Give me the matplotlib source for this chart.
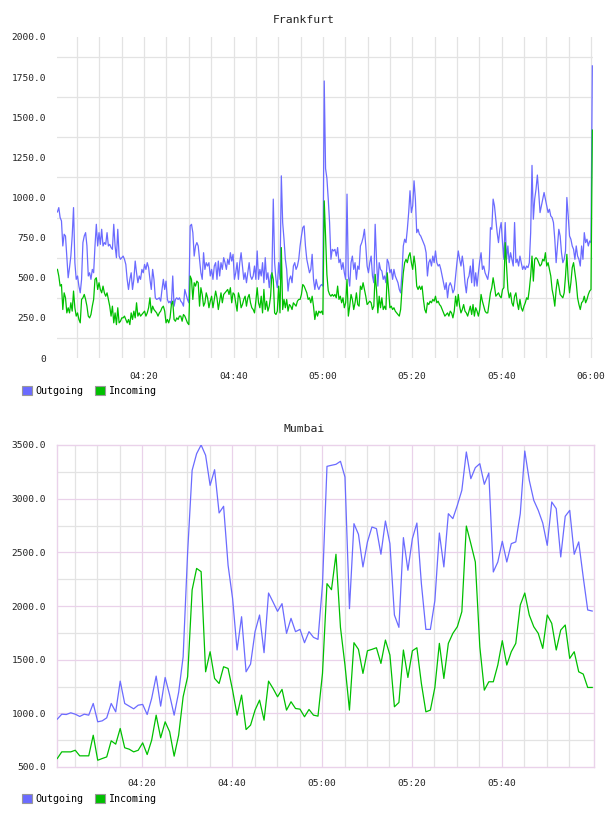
import matplotlib
matplotlib.use("Agg")
import matplotlib.pyplot as plt
from matplotlib.patches import Patch
import numpy as np

# ---------------- data ----------------
# Frankfurt: samples every 0.3 min starting 04:00:36 (minutes after 04:00)
fra_start = 0.6
fra_step = 0.3
fra_outgoing = [
    910, 937, 875, 854, 698, 771, 760, 635, 500, 563,
    635, 760, 937, 594, 490, 511, 448, 406, 490, 719,
    760, 781, 698, 511, 531, 490, 552, 531, 698, 833,
    698, 781, 708, 802, 698, 719, 708, 781, 698, 708,
    688, 677, 833, 698, 625, 802, 635, 615, 625, 635,
    615, 583, 490, 427, 490, 531, 427, 490, 604, 531,
    469, 511, 490, 552, 531, 583, 552, 594, 563, 490,
    427, 552, 490, 375, 365, 369, 375, 354, 427, 490,
    427, 479, 365, 344, 354, 333, 511, 323, 365, 375,
    365, 375, 354, 344, 323, 427, 396, 365, 344, 823,
    833, 781, 635, 698, 719, 698, 615, 531, 490, 656,
    552, 594, 573, 594, 511, 552, 490, 573, 594, 490,
    604, 511, 594, 552, 625, 594, 552, 615, 583, 656,
    604, 646, 490, 531, 594, 490, 594, 656, 573, 490,
    531, 469, 531, 594, 511, 490, 511, 573, 490, 667,
    490, 552, 511, 594, 469, 625, 490, 531, 438, 511,
    531, 990, 594, 490, 438, 594, 490, 1135, 844, 740,
    615, 552, 417, 490, 511, 469, 573, 594, 552, 573,
    615, 698, 760, 812, 823, 698, 615, 573, 531, 552,
    646, 490, 427, 490, 448, 427, 448, 458, 448, 1726,
    1180, 1120, 990, 844, 615, 677, 667, 677, 635, 688,
    594, 615, 552, 594, 531, 490, 1021, 511, 448, 594,
    635, 552, 594, 490, 573, 552, 698, 719, 750, 802,
    698, 573, 531, 594, 635, 511, 469, 833, 615, 448,
    594, 552, 542, 490, 511, 469, 615, 594, 531, 552,
    490, 552, 511, 490, 469, 427, 406, 531, 698, 740,
    719, 802, 906, 1042, 906, 948, 1104, 990, 781, 802,
    771, 760, 740, 719, 698, 656, 511, 594, 615, 573,
    635, 594, 667, 594, 573, 583, 552, 511, 469, 427,
    469, 375, 448, 469, 448, 406, 427, 511, 594, 667,
    615, 573, 635, 573, 469, 406, 490, 511, 573, 469,
    615, 448, 531, 448, 531, 604, 656, 552, 573, 531,
    511, 490, 552, 812, 802, 990, 948, 865, 781, 719,
    802, 844, 719, 615, 844, 615, 698, 594, 656, 615,
    573, 844, 594, 615, 573, 635, 594, 552, 573, 552,
    573, 563, 594, 781, 1200, 865, 990, 1052, 1140, 1031,
    906, 948, 990, 1031, 990, 948, 906, 927, 885, 875,
    844, 740, 594, 698, 802, 760, 656, 594, 615, 667,
    1000, 885, 760, 740, 698, 677, 615, 698, 635, 615,
    573, 698, 615, 781, 719, 740, 698, 729, 719, 1820,
]
fra_incoming = [
    552, 511, 448, 458, 302, 406, 375, 281, 313, 281,
    344, 292, 417, 313, 261, 281, 240, 219, 365, 375,
    396, 365, 323, 261, 250, 271, 323, 365, 490, 500,
    427, 469, 427, 406, 448, 406, 385, 406, 365, 323,
    261, 323, 219, 281, 208, 313, 219, 229, 250, 250,
    261, 240, 219, 240, 208, 281, 240, 292, 250, 344,
    261, 281, 261, 271, 281, 292, 261, 281, 313, 375,
    281, 323, 302, 292, 281, 261, 281, 292, 313, 323,
    292, 219, 240, 219, 250, 333, 354, 240, 229, 250,
    240, 261, 261, 229, 271, 261, 240, 219, 208, 511,
    490, 365, 469, 448, 479, 469, 323, 438, 396, 323,
    344, 406, 375, 313, 354, 385, 313, 365, 417, 375,
    302, 354, 406, 344, 396, 406, 417, 427, 396, 438,
    344, 406, 396, 344, 292, 406, 375, 313, 333, 365,
    385, 323, 375, 396, 344, 313, 302, 281, 354, 438,
    344, 313, 385, 281, 427, 302, 354, 292, 323, 385,
    531, 490, 281, 271, 292, 448, 281, 688, 302, 365,
    313, 365, 292, 333, 323, 302, 344, 333, 323, 354,
    365, 365, 396, 458, 448, 427, 406, 365, 375, 344,
    385, 323, 240, 292, 261, 292, 281, 292, 271, 979,
    760, 520, 420, 396, 385, 396, 385, 396, 375, 448,
    365, 385, 344, 375, 313, 344, 490, 261, 323, 396,
    365, 302, 344, 406, 333, 323, 448, 427, 469, 427,
    385, 333, 344, 354, 344, 302, 323, 521, 427, 281,
    385, 313, 375, 302, 323, 302, 531, 427, 313, 323,
    302, 313, 292, 281, 271, 261, 302, 427, 531, 594,
    615, 594, 635, 656, 594, 552, 635, 573, 448, 427,
    448, 427, 448, 365, 302, 281, 344, 333, 354, 344,
    365, 354, 385, 344, 354, 333, 323, 302, 281, 261,
    271, 281, 261, 292, 281, 250, 292, 385, 323, 396,
    323, 281, 302, 333, 292, 281, 261, 292, 323, 271,
    333, 261, 313, 292, 261, 302, 396, 354, 323, 292,
    281, 281, 344, 406, 438, 500, 448, 385, 396, 406,
    385, 375, 427, 438, 719, 573, 427, 375, 406, 344,
    323, 385, 406, 344, 302, 365, 313, 292, 323, 344,
    375, 365, 427, 511, 635, 479, 615, 625, 615, 594,
    573, 583, 615, 604, 656, 573, 594, 552, 511, 427,
    385, 323, 427, 490, 448, 396, 385, 375, 406, 511,
    646, 490, 406, 469, 563, 594, 531, 469, 375, 333,
    302, 344, 354, 385, 344, 365, 396, 417, 427, 1420,
]

# Mumbai: one sample per minute starting 04:01:06
mum_start = 1.1
mum_step = 1.0
mum_outgoing = [
    946, 992, 989, 1005, 992, 971, 992, 983, 1092, 921,
    930, 958, 1092, 1014, 1300, 1092, 1067, 1042, 1076, 1083,
    989, 1139, 1347, 1067, 1334, 1170, 983, 1195, 1527, 2500,
    3264, 3419, 3500, 3404, 3124, 3270, 2867, 2929, 2379, 2070,
    1590, 1900, 1387, 1459, 1761, 1916, 1565, 2121, 2037, 1950,
    2022, 1745, 1885, 1761, 1782, 1658, 1761, 1708, 1689, 2200,
    3301, 3311, 3320, 3348, 3202, 1975, 2767, 2668, 2364, 2597,
    2736, 2721, 2482, 2792, 2581, 1916, 1801, 2637, 2333, 2628,
    2773, 2208, 1782, 1782, 2050, 2680, 2364, 2860, 2814, 2938,
    3078, 3435, 3186, 3289, 3326, 3134, 3239, 2317, 2410, 2603,
    2410, 2581, 2597, 2860, 3444, 3171, 2985, 2891, 2773, 2565,
    2969, 2907, 2457, 2836, 2891, 2482, 2597, 2270, 1963, 1953,
]
mum_incoming = [
    579, 641, 641, 641, 656, 604, 604, 604, 796, 563,
    579, 594, 744, 713, 859, 679, 666, 641, 656, 725,
    616, 750, 983, 772, 921, 828, 601, 796, 1154, 1341,
    2150, 2350, 2320, 1387, 1574, 1325, 1278, 1434, 1418, 1216,
    983, 1170, 849, 890, 1030, 1123, 936, 1300, 1232, 1154,
    1223, 1030, 1108, 1045, 1039, 968, 1036, 983, 974, 1372,
    2208, 2152, 2482, 1800, 1450, 1030, 1658, 1596, 1372, 1583,
    1596, 1611, 1465, 1683, 1543, 1061, 1101, 1590, 1334, 1583,
    1611, 1278, 1014, 1030, 1241, 1652, 1325, 1652, 1745, 1807,
    1947, 2745, 2581, 2410, 1620, 1216, 1294, 1294, 1450, 1677,
    1450, 1574, 1652, 2009, 2121, 1916, 1807, 1745, 1605, 1916,
    1838, 1590, 1776, 1823, 1512, 1574, 1387, 1366, 1241, 1241,
]

time_ticks = [20, 40, 60, 80, 100, 120]
time_labels = ["04:20", "04:40", "05:00", "05:20", "05:40", "06:00"]
fra_yticks = [0, 250, 500, 750, 1000, 1250, 1500, 1750, 2000]
mum_yticks = [500, 1000, 1500, 2000, 2500, 3000, 3500]
series_names = ["Outgoing", "Incoming"]

# ---------------- style ----------------
BLUE = "#6b6bff"
GREEN = "#00c000"
GRID = "#e3e3e3"
PINK = "#ead2ea"
TXT = "#222222"
MONO = "DejaVu Sans Mono"

fig = plt.figure(figsize=(6.08, 8.16), dpi=100)
fig.patch.set_facecolor("white")

W, H = 608.0, 816.0
def rect(l, t, r, b):
    return [l / W, 1 - b / H, (r - l) / W, (b - t) / H]

ax1 = fig.add_axes(rect(57, 37, 593, 358))
ax2 = fig.add_axes(rect(57, 445, 594, 767))

def ylab(v):
    return "0" if v == 0 else f"{v:.1f}"

# ---- Frankfurt ----
t1 = fra_start + fra_step * np.arange(len(fra_outgoing))
ax1.set_xlim(0.5, 120.45)
ax1.set_ylim(0, 2000)
for x in range(5, 121, 5):
    ax1.axvline(x, color=GRID, lw=0.9, zorder=0)
for y in range(125, 2000, 250):
    ax1.axhline(y, color=GRID, lw=0.9, zorder=0)
ax1.plot(t1, fra_outgoing, color=BLUE, lw=0.9, zorder=3)
ax1.plot(t1, fra_incoming, color=GREEN, lw=0.9, zorder=4)
for s in ax1.spines.values():
    s.set_visible(False)
ax1.set_xticks(time_ticks)
ax1.set_xticklabels(time_labels)
ax1.set_yticks(fra_yticks)
ax1.set_yticklabels([ylab(v) for v in fra_yticks])
ax1.tick_params(axis="both", length=0, labelsize=6.8, colors=TXT)
ax1.tick_params(axis="x", pad=10)
ax1.tick_params(axis="y", pad=8)
for lab in ax1.get_xticklabels() + ax1.get_yticklabels():
    lab.set_family(MONO)

# ---- Mumbai ----
t2 = mum_start + mum_step * np.arange(len(mum_outgoing))
ax2.set_xlim(1.04, 120.5)
ax2.set_ylim(500, 3500)
for x in range(5, 120, 5):
    ax2.axvline(x, color=PINK if x % 20 == 0 else GRID, lw=0.9, zorder=0)
for y in range(750, 3500, 250):
    ax2.axhline(y, color=PINK if y % 500 == 0 else GRID, lw=0.9, zorder=0)
ax2.plot(t2, mum_outgoing, color=BLUE, lw=0.9, zorder=3)
ax2.plot(t2, mum_incoming, color=GREEN, lw=0.9, zorder=4)
for s in ax2.spines.values():
    s.set_color(PINK)
    s.set_linewidth(1.0)
ax2.set_xticks(time_ticks[:-1])
ax2.set_xticklabels(time_labels[:-1])
ax2.set_yticks(mum_yticks)
ax2.set_yticklabels([ylab(v) for v in mum_yticks])
ax2.tick_params(axis="both", length=0, labelsize=6.8, colors=TXT)
ax2.tick_params(axis="x", pad=9)
ax2.tick_params(axis="y", pad=8)
for lab in ax2.get_xticklabels() + ax2.get_yticklabels():
    lab.set_family(MONO)

# ---- titles ----
fig.text(304 / W, 1 - 20 / H, "Frankfurt", ha="center", va="center",
         fontsize=8.2, family=MONO, color=TXT)
fig.text(304 / W, 1 - 429 / H, "Mumbai", ha="center", va="center",
         fontsize=8.2, family=MONO, color=TXT)

# ---- legends ----
handles = [Patch(facecolor=BLUE, edgecolor="#999999", lw=0.8),
           Patch(facecolor=GREEN, edgecolor="#999999", lw=0.8)]
for ytop in (386, 794):
    fig.legend(handles, series_names, loc="upper left",
               bbox_to_anchor=(22 / W, 1 - ytop / H), ncol=2, frameon=False,
               borderaxespad=0, borderpad=0, handlelength=0.95,
               handleheight=0.95, handletextpad=0.35, columnspacing=1.2,
               prop={"family": MONO, "size": 7.2})

fig.savefig("out.png", dpi=100, facecolor="white")
